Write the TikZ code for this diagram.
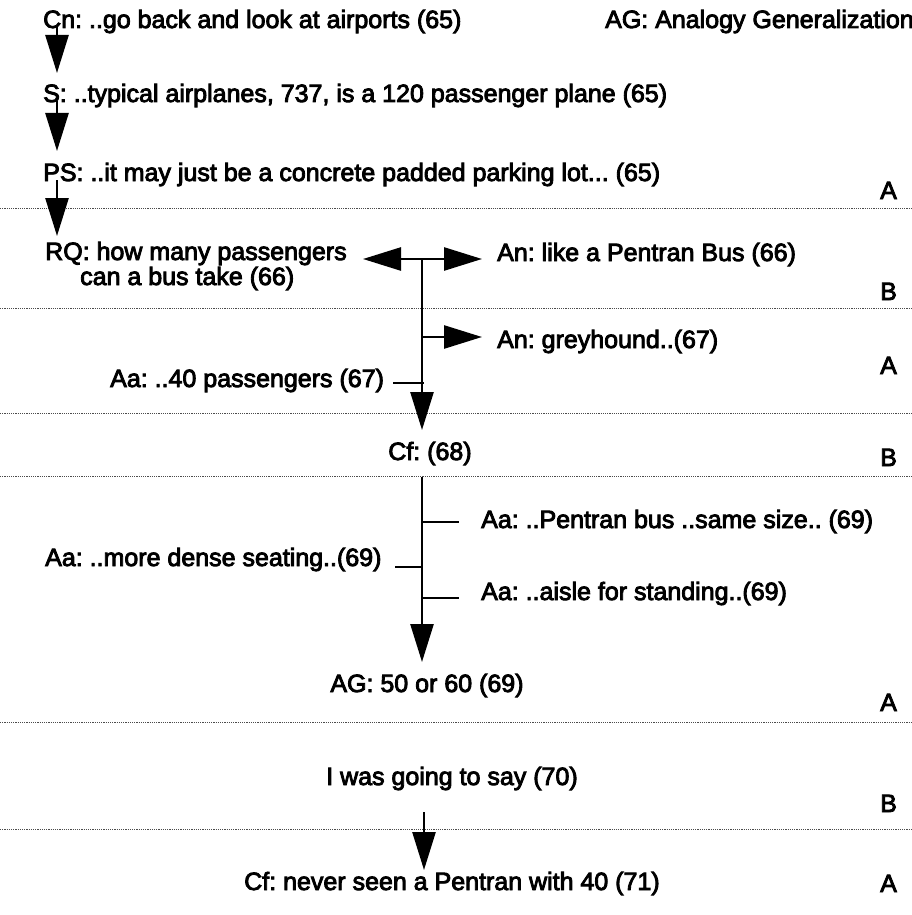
\documentclass[tikz,border=0pt]{standalone}
\usepackage{fontspec}
\newfontfamily\dfont{Liberation Sans}
\usetikzlibrary{arrows.meta}
\newcommand{\fs}{\fontsize{25}{30}\selectfont\frenchspacing}
\newcommand{\heavytxt}{\special{pdf:literal direct 2 Tr 0.85 w}}
\begin{document}
\begin{tikzpicture}[x=1pt,y=-1pt,
  txt/.style={font=\dfont\fs\heavytxt, inner sep=0pt, anchor=base west},
  ctxt/.style={font=\dfont\fs\heavytxt, inner sep=0pt, anchor=base},
  bigarrow/.style={line width=2.6pt, -{Triangle[length=38pt,width=23pt]}},
  ticks/.style={line width=2.4pt},
  sepline/.style={black!70, line width=0.8pt, dash pattern=on 1.2pt off 1pt}]
\useasboundingbox (0,0) rectangle (912,915);
\fill[white] (0,0) rectangle (912,915);

% texts
\node[txt] (cn) at (43,28) {Cn: ..go back and look at airports (65)};
\node[txt] (leg) at (605,28) {AG: Analogy Generalization};
\node[txt] (s) at (43,102) {S: ..typical airplanes, 737, is a 120 passenger plane (65)};
\node[txt] (ps) at (43,181) {PS: ..it may just be a concrete padded parking lot... (65)};
\node[txt] (l1) at (880,199) {A};
\node[txt] (rq1) at (45,260) {RQ: how many passengers};
\node[txt] (rq2) at (80,285) {can a bus take (66)};
\node[txt] (an1) at (497,261) {An: like a Pentran Bus (66)};
\node[txt] (l2) at (880,300) {B};
\node[txt] (an2) at (497,348) {An: greyhound..(67)};
\node[txt] (l3) at (880,374) {A};
\node[txt] (aa1) at (110,387) {Aa: ..40 passengers (67)};
\node[ctxt] (cf1) at (430,460) {Cf: (68)};
\node[txt] (l4) at (880,466) {B};
\node[txt] (aa2) at (481,528) {Aa: ..Pentran bus ..same size.. (69)};
\node[txt] (aa3) at (45,566) {Aa: ..more dense seating..(69)};
\node[txt] (aa4) at (481,600) {Aa: ..aisle for standing..(69)};
\node[ctxt] (ag) at (427,692) {AG: 50 or 60 (69)};
\node[txt] (l5) at (880,711) {A};
\node[ctxt] (iw) at (452,785) {I was going to say (70)};
\node[txt] (l6) at (880,812) {B};
\node[ctxt] (cf2) at (452,890) {Cf: never seen a Pentran with 40 (71)};
\node[txt] (l7) at (880,892) {A};

% separators
\coordinate (d1a) at (0,208); \coordinate (d1b) at (912,208);
\coordinate (d2a) at (0,308); \coordinate (d2b) at (912,308);
\coordinate (d3a) at (0,413); \coordinate (d3b) at (912,413);
\coordinate (d4a) at (0,476); \coordinate (d4b) at (912,476);
\coordinate (d5a) at (0,722); \coordinate (d5b) at (912,722);
\coordinate (d6a) at (0,829); \coordinate (d6b) at (912,829);
\foreach \p in {1,...,6} {\draw[sepline] (d\p a) -- (d\p b);}

% left chain
\coordinate (a1s) at (57,26);  \coordinate (a1e) at (57,73);
\coordinate (a2s) at (57,101); \coordinate (a2e) at (57,151);
\coordinate (a3s) at (57,180); \coordinate (a3e) at (57,236);
\draw[bigarrow] (a1s) -- (a1e);
\draw[bigarrow] (a2s) -- (a2e);
\draw[bigarrow] (a3s) -- (a3e);

% junction
\coordinate (j1) at (422,259);
\coordinate (jl) at (363,259);
\coordinate (jr) at (482,259);
\coordinate (j2) at (422,337);
\coordinate (j2r) at (482,337);
\coordinate (j3) at (424,383);
\coordinate (j3l) at (393,383);
\coordinate (v1e) at (422,430);
\draw[bigarrow] (j1) -- (jl);
\draw[bigarrow] (j1) -- (jr);
\draw[bigarrow] (j2) -- (j2r);
\draw[ticks] (j3l) -- (j3);
\draw[bigarrow] (j1) -- (v1e);

% second vertical
\coordinate (v2s) at (422,477);
\coordinate (v2e) at (422,662);
\coordinate (t1) at (422,522); \coordinate (t1r) at (459,522);
\coordinate (t2) at (422,567); \coordinate (t2l) at (395,567);
\coordinate (t3) at (422,598); \coordinate (t3r) at (459,598);
\draw[ticks] (t1) -- (t1r);
\draw[ticks] (t2l) -- (t2);
\draw[ticks] (t3) -- (t3r);
\draw[bigarrow] (v2s) -- (v2e);

% last arrow
\coordinate (a4s) at (424,812); \coordinate (a4e) at (424,870);
\draw[bigarrow] (a4s) -- (a4e);
\end{tikzpicture}
\end{document}
